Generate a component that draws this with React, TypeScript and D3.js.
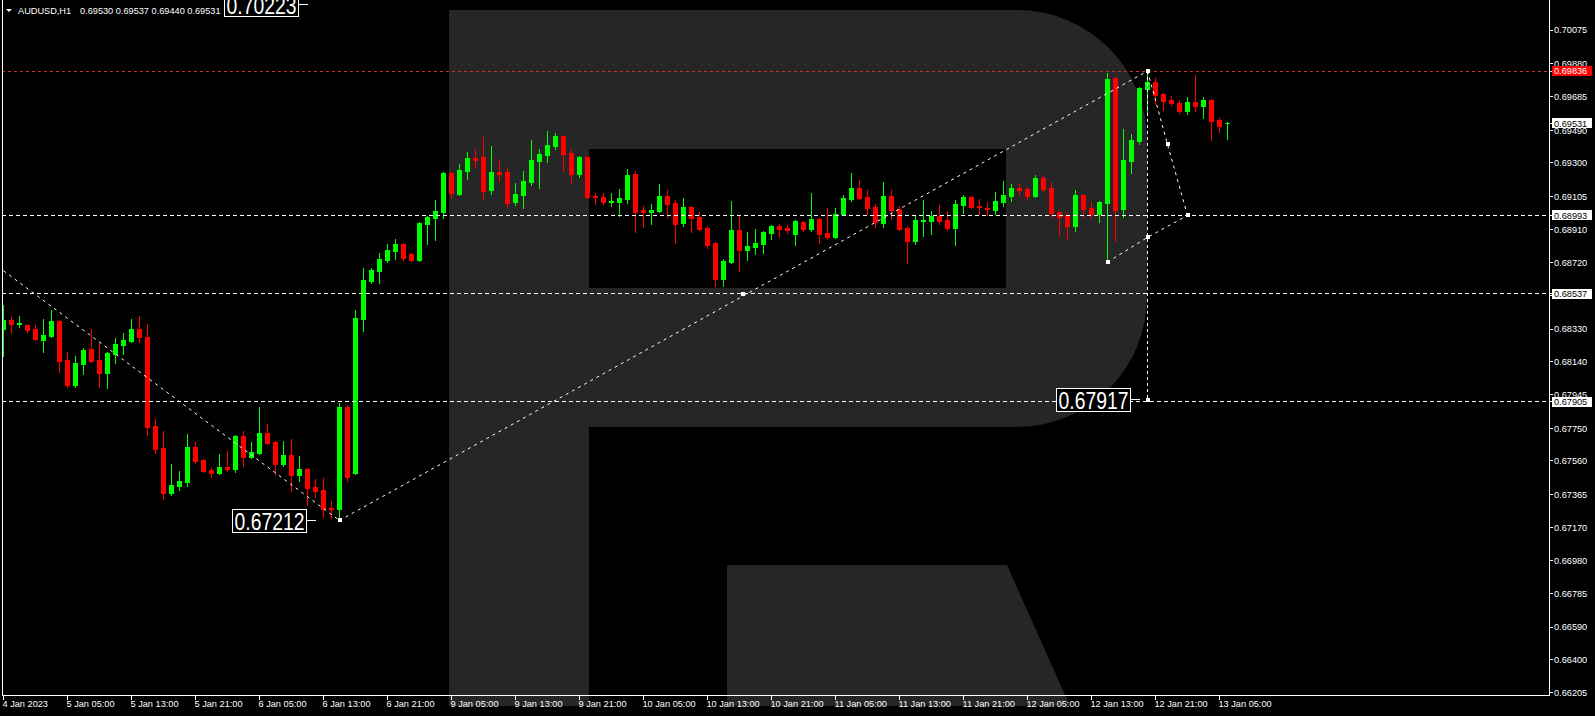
import React from 'react';
import * as d3 from 'd3';

// ---------------- data ----------------
const symbolTitle = 'AUDUSD,H1';
const headerValues = ['0.69530', '0.69537', '0.69440', '0.69531'];

const open = [
  0.68329, 0.68382, 0.68359, 0.68353, 0.68329, 0.68265, 0.68289, 0.68376, 0.68149, 0.68003,
  0.68126, 0.68212, 0.68149, 0.68072, 0.68184, 0.68236, 0.68259, 0.68329, 0.68283, 0.67763,
  0.67634, 0.67371, 0.67413, 0.67436, 0.67640, 0.67565, 0.67506, 0.67488, 0.67524, 0.67512,
  0.67705, 0.67582, 0.67605, 0.67722, 0.67669, 0.67542, 0.67594, 0.67477, 0.67512, 0.67407,
  0.67389, 0.67284, 0.67278, 0.67874, 0.67488, 0.68388, 0.68610, 0.68668, 0.68733, 0.68785,
  0.68826, 0.68768, 0.68733, 0.68943, 0.68978, 0.69013, 0.69240, 0.69118, 0.69252, 0.69328,
  0.69334, 0.69141, 0.69246, 0.69246, 0.69071, 0.69112, 0.69188, 0.69311, 0.69346, 0.69398,
  0.69457, 0.69358, 0.69235, 0.69334, 0.69106, 0.69100, 0.69071, 0.69071, 0.69089, 0.69235,
  0.69025, 0.69013, 0.69019, 0.69106, 0.69065, 0.68948, 0.69042, 0.68984, 0.68919, 0.68832,
  0.68622, 0.68721, 0.68908, 0.68791, 0.68809, 0.68826, 0.68890, 0.68931, 0.68919, 0.68884,
  0.68954, 0.68914, 0.68972, 0.68890, 0.68867, 0.69001, 0.69089, 0.69153, 0.69100, 0.69042,
  0.68948, 0.69106, 0.69030, 0.68919, 0.68843, 0.68960, 0.68960, 0.68990, 0.68966, 0.68919,
  0.69054, 0.69100, 0.69048, 0.69036, 0.69025, 0.69071, 0.69106, 0.69153, 0.69147, 0.69106,
  0.69211, 0.69153, 0.69013, 0.68995, 0.68931, 0.69112, 0.69036, 0.69001, 0.69065, 0.69796,
  0.69030, 0.69311, 0.69428, 0.69731, 0.69772, 0.69702, 0.69667, 0.69649, 0.69603, 0.69655,
  0.69632, 0.69667, 0.69550, 0.69530,
];
const high = [
  0.68470, 0.68400, 0.68406, 0.68358, 0.68353, 0.68388, 0.68441, 0.68382, 0.68195, 0.68172,
  0.68218, 0.68329, 0.68247, 0.68195, 0.68277, 0.68306, 0.68388, 0.68406, 0.68359, 0.67804,
  0.67734, 0.67542, 0.67500, 0.67717, 0.67669, 0.67570, 0.67518, 0.67600, 0.67617, 0.67711,
  0.67734, 0.67669, 0.67874, 0.67775, 0.67675, 0.67675, 0.67687, 0.67588, 0.67518, 0.67454,
  0.67459, 0.67325, 0.67898, 0.67886, 0.68441, 0.68686, 0.68686, 0.68774, 0.68826, 0.68855,
  0.68832, 0.68774, 0.68954, 0.68990, 0.69083, 0.69246, 0.69246, 0.69293, 0.69363, 0.69381,
  0.69451, 0.69398, 0.69322, 0.69270, 0.69182, 0.69252, 0.69433, 0.69381, 0.69486, 0.69474,
  0.69463, 0.69381, 0.69340, 0.69340, 0.69124, 0.69124, 0.69124, 0.69147, 0.69264, 0.69252,
  0.69048, 0.69060, 0.69176, 0.69141, 0.69083, 0.69095, 0.69048, 0.69013, 0.68931, 0.68838,
  0.68739, 0.69077, 0.68995, 0.68896, 0.68914, 0.68902, 0.68937, 0.68943, 0.68937, 0.68966,
  0.68960, 0.69124, 0.68978, 0.69036, 0.69036, 0.69112, 0.69240, 0.69200, 0.69141, 0.69060,
  0.69188, 0.69141, 0.69048, 0.68931, 0.68990, 0.69083, 0.69019, 0.69054, 0.69019, 0.69083,
  0.69112, 0.69106, 0.69089, 0.69071, 0.69130, 0.69194, 0.69176, 0.69182, 0.69159, 0.69229,
  0.69229, 0.69188, 0.69019, 0.69007, 0.69141, 0.69118, 0.69071, 0.69077, 0.69825, 0.69801,
  0.69498, 0.69468, 0.69743, 0.69836, 0.69796, 0.69708, 0.69690, 0.69667, 0.69685, 0.69813,
  0.69685, 0.69673, 0.69562, 0.69537,
];
const low = [
  0.68172, 0.68306, 0.68341, 0.68312, 0.68265, 0.68195, 0.68283, 0.68078, 0.67991, 0.67991,
  0.68067, 0.68137, 0.67991, 0.67985, 0.68131, 0.68184, 0.68253, 0.68253, 0.67711, 0.67605,
  0.67336, 0.67360, 0.67389, 0.67413, 0.67547, 0.67494, 0.67465, 0.67483, 0.67500, 0.67494,
  0.67530, 0.67576, 0.67599, 0.67657, 0.67477, 0.67530, 0.67383, 0.67442, 0.67302, 0.67348,
  0.67232, 0.67226, 0.67212, 0.67442, 0.67482, 0.68318, 0.68598, 0.68598, 0.68721, 0.68739,
  0.68733, 0.68727, 0.68727, 0.68826, 0.68849, 0.68978, 0.69095, 0.69112, 0.69206, 0.69276,
  0.69089, 0.69118, 0.69194, 0.69036, 0.69054, 0.69036, 0.69171, 0.69153, 0.69305, 0.69381,
  0.69252, 0.69176, 0.69217, 0.69095, 0.69060, 0.69060, 0.69048, 0.68990, 0.69065, 0.68896,
  0.68925, 0.68943, 0.69013, 0.68984, 0.68832, 0.68931, 0.68896, 0.68908, 0.68803, 0.68581,
  0.68581, 0.68715, 0.68668, 0.68733, 0.68768, 0.68774, 0.68855, 0.68867, 0.68890, 0.68820,
  0.68902, 0.68902, 0.68832, 0.68855, 0.68861, 0.68995, 0.69077, 0.69089, 0.69001, 0.68925,
  0.68925, 0.68972, 0.68908, 0.68715, 0.68826, 0.68873, 0.68884, 0.68943, 0.68908, 0.68820,
  0.69007, 0.69036, 0.69001, 0.68995, 0.69001, 0.69048, 0.69077, 0.69112, 0.69083, 0.69100,
  0.69136, 0.68984, 0.68879, 0.68855, 0.68902, 0.68984, 0.68978, 0.68954, 0.68721, 0.68843,
  0.68984, 0.69240, 0.69410, 0.69591, 0.69644, 0.69609, 0.69638, 0.69591, 0.69585, 0.69603,
  0.69562, 0.69433, 0.69480, 0.69440,
];
const close = [
  0.68382, 0.68359, 0.68364, 0.68324, 0.68271, 0.68295, 0.68376, 0.68143, 0.68003, 0.68131,
  0.68207, 0.68143, 0.68072, 0.68189, 0.68242, 0.68265, 0.68329, 0.68283, 0.67757, 0.67628,
  0.67371, 0.67419, 0.67442, 0.67640, 0.67559, 0.67500, 0.67488, 0.67524, 0.67512, 0.67705,
  0.67582, 0.67611, 0.67722, 0.67663, 0.67542, 0.67594, 0.67477, 0.67512, 0.67401, 0.67383,
  0.67278, 0.67278, 0.67874, 0.67465, 0.68394, 0.68616, 0.68674, 0.68739, 0.68791, 0.68826,
  0.68745, 0.68733, 0.68948, 0.68984, 0.69019, 0.69240, 0.69124, 0.69258, 0.69328, 0.69317,
  0.69136, 0.69246, 0.69235, 0.69065, 0.69118, 0.69194, 0.69317, 0.69352, 0.69404, 0.69457,
  0.69352, 0.69235, 0.69334, 0.69100, 0.69100, 0.69071, 0.69077, 0.69095, 0.69229, 0.69013,
  0.69013, 0.69025, 0.69106, 0.69060, 0.68943, 0.69042, 0.68978, 0.68914, 0.68820, 0.68622,
  0.68727, 0.68908, 0.68791, 0.68814, 0.68832, 0.68896, 0.68931, 0.68914, 0.68908, 0.68960,
  0.68914, 0.68972, 0.68884, 0.68867, 0.69001, 0.69095, 0.69153, 0.69095, 0.69036, 0.68954,
  0.69106, 0.69025, 0.68914, 0.68843, 0.68966, 0.68966, 0.68990, 0.68960, 0.68919, 0.69060,
  0.69100, 0.69042, 0.69042, 0.69030, 0.69077, 0.69112, 0.69153, 0.69141, 0.69106, 0.69211,
  0.69147, 0.69007, 0.68984, 0.68931, 0.69112, 0.69030, 0.69001, 0.69071, 0.69790, 0.69025,
  0.69317, 0.69433, 0.69737, 0.69772, 0.69696, 0.69661, 0.69649, 0.69603, 0.69655, 0.69632,
  0.69667, 0.69544, 0.69515, 0.69531,
];

const timeTickBars = [0, 8, 16, 24, 32, 40, 48, 56, 64, 72, 80, 88, 96, 104, 112, 120, 128, 136, 144, 152];
const timeTickLabels = [
  '4 Jan 2023', '5 Jan 05:00', '5 Jan 13:00', '5 Jan 21:00', '6 Jan 05:00', '6 Jan 13:00',
  '6 Jan 21:00', '9 Jan 05:00', '9 Jan 13:00', '9 Jan 21:00', '10 Jan 05:00', '10 Jan 13:00',
  '10 Jan 21:00', '11 Jan 05:00', '11 Jan 13:00', '11 Jan 21:00', '12 Jan 05:00', '12 Jan 13:00',
  '12 Jan 21:00', '13 Jan 05:00',
];
const priceTicks = [
  0.70075, 0.6988, 0.69685, 0.6949, 0.693, 0.69105, 0.6891, 0.6872, 0.68525, 0.6833, 0.6814,
  0.67945, 0.6775, 0.6756, 0.67365, 0.6717, 0.6698, 0.66785, 0.6659, 0.664, 0.66205,
];

const highLevel = 0.69836;
const lastPrice = 0.69531;
const levelPrices = [0.68993, 0.68537, 0.67905];

// wave annotations: [bar index, price]
const trendLines: [number, number][][] = [
  [[0, 0.6867], [42, 0.67212]],
  [[42, 0.67212], [143, 0.69836]],
  [[143, 0.69836], [145.5, 0.69408], [148, 0.68993]],
  [[138, 0.68721], [143, 0.68865], [148, 0.68993]],
];
const verticalLine: [number, number][] = [[143, 0.69836], [143, 0.67917]];
const markers: [number, number][] = [
  [42, 0.67212], [92.4, 0.68537], [143, 0.69836], [145.5, 0.69408], [148, 0.68993],
  [143, 0.68865], [138, 0.68721], [143, 0.67917],
];
const labelTexts = ['0.70223', '0.67212', '0.67917'];
const labelPrices = [0.70223, 0.67212, 0.67917];
const labelAnchorBars = [38, 39, 142];

// ---------------- chart ----------------
export default function App() {
  const W = 1595;
  const H = 716;
  const plotL = 2;
  const plotR = 1549;
  const plotB = 695;
  const font = '"Liberation Sans", Arial, sans-serif';
  const fs = 9.2;

  const x = d3.scaleLinear().domain([0, 153]).range([3.5, 1227.5]);
  const y = d3.scaleLinear().domain([0.66193, 0.70251]).range([695, 0]);
  const line = d3
    .line<[number, number]>()
    .x((d) => x(d[0]))
    .y((d) => y(d[1]));

  const crisp = (v: number) => Math.round(v - 0.5) + 0.5;

  const watermark =
    'M449,10 H1017 A130,130 0 0 1 1147,140 V297 A130,130 0 0 1 1017,427 H589 V706 H449 Z ' +
    'M589,149 H1006 V288 H589 Z';
  const leg = 'M727,565 H1007 L1070,706 H727 Z';

  return (
    <svg
      width={W}
      height={H}
      style={{ position: 'fixed', left: 0, top: 0, background: '#000' }}
      fontFamily={font}
    >
      <rect x={0} y={0} width={W} height={H} fill="#000" />
      <defs>
        <clipPath id="plot">
          <rect x={plotL + 1} y={0} width={plotR - plotL - 1} height={plotB} />
        </clipPath>
      </defs>

      {/* watermark */}
      <path d={watermark} fill="#262626" fillRule="evenodd" />
      <path d={leg} fill="#262626" />

      {/* candles */}
      <g clipPath="url(#plot)" shapeRendering="crispEdges">
        {open.map((o, i) => {
          const c = close[i];
          const up = c > o;
          const col = up ? '#00ff00' : '#ff0000';
          const xc = crisp(x(i));
          const yH = Math.round(y(high[i]));
          const yL = Math.round(y(low[i]));
          const yT = Math.round(y(Math.max(o, c)));
          const yB = Math.round(y(Math.min(o, c)));
          return (
            <g key={i}>
              <line x1={xc} x2={xc} y1={yH} y2={yL + 1} stroke={col} strokeWidth={1} />
              <rect x={xc - 2.5} y={yT} width={5} height={Math.max(1, yB - yT + 1)} fill={col} />
            </g>
          );
        })}
      </g>

      {/* horizontal levels */}
      <g clipPath="url(#plot)" shapeRendering="crispEdges">
        <line
          x1={plotL}
          x2={plotR}
          y1={crisp(y(highLevel))}
          y2={crisp(y(highLevel))}
          stroke="#c83232"
          strokeDasharray="3,3"
        />
        {levelPrices.map((p, i) => (
          <line
            key={i}
            x1={plotL}
            x2={plotR}
            y1={crisp(y(p))}
            y2={crisp(y(p))}
            stroke="#fff"
            strokeDasharray="4,3"
          />
        ))}
      </g>

      {/* wave annotations */}
      <g clipPath="url(#plot)">
        {trendLines.map((pts, i) => (
          <path key={i} d={line(pts) || ''} fill="none" stroke="#fff" strokeWidth={1} strokeDasharray="3,4" />
        ))}
        <line
          x1={crisp(x(verticalLine[0][0]))}
          x2={crisp(x(verticalLine[1][0]))}
          y1={y(verticalLine[0][1])}
          y2={y(verticalLine[1][1])}
          stroke="#fff"
          strokeDasharray="3,3"
          shapeRendering="crispEdges"
        />
        {markers.map((m, i) => (
          <rect key={i} x={Math.round(x(m[0])) - 2} y={Math.round(y(m[1])) - 2} width={4} height={4} fill="#fff" />
        ))}
        {labelTexts.map((t, i) => {
          const ax = x(labelAnchorBars[i]);
          const cy = y(labelPrices[i]);
          const right = Math.round(ax - 10) + 0.5;
          const top = Math.round(cy - 11.5) + 0.5;
          return (
            <g key={i}>
              <line x1={right} x2={ax} y1={crisp(cy)} y2={crisp(cy)} stroke="#fff" shapeRendering="crispEdges" />
              <rect x={right - 74} y={top} width={74} height={23} fill="#000" stroke="#fff" shapeRendering="crispEdges" />
              <text
                x={right - 72}
                y={top + 20}
                fill="#fff"
                fontSize={23}
                textLength={70}
                lengthAdjust="spacingAndGlyphs"
              >
                {t}
              </text>
            </g>
          );
        })}
      </g>

      {/* frame */}
      <g stroke="#fff" shapeRendering="crispEdges">
        <line x1={plotL + 0.5} x2={plotL + 0.5} y1={0} y2={plotB + 1} />
        <line x1={plotR + 0.5} x2={plotR + 0.5} y1={0} y2={plotB + 1} />
        <line x1={plotL} x2={plotR + 1} y1={plotB + 0.5} y2={plotB + 0.5} />
      </g>

      {/* price axis */}
      <g fontSize={fs} fill="#fff">
        {priceTicks.map((v, i) => {
          const ty = y(v);
          return (
            <g key={i}>
              <line x1={plotR + 1} x2={plotR + 4} y1={crisp(ty)} y2={crisp(ty)} stroke="#fff" shapeRendering="crispEdges" />
              <text x={1554} y={ty + 3.3}>
                {v.toFixed(5)}
              </text>
            </g>
          );
        })}
      </g>
      {/* price badges */}
      {[
        { p: highLevel, bg: '#ff0000', fg: '#fff' },
        { p: lastPrice, bg: '#fff', fg: '#000' },
        ...levelPrices.map((p) => ({ p, bg: '#fff', fg: '#000' })),
      ].map((b, i) => {
        const ty = y(b.p);
        return (
          <g key={i}>
            <line x1={plotR + 1} x2={1552} y1={crisp(ty)} y2={crisp(ty)} stroke="#fff" shapeRendering="crispEdges" />
            <rect x={1552} y={Math.round(ty) - 5} width={40} height={10} fill={b.bg} shapeRendering="crispEdges" />
            <text x={1554} y={ty + 3.3} fontSize={fs} fill={b.fg}>
              {b.p.toFixed(5)}
            </text>
          </g>
        );
      })}

      {/* time axis */}
      <g fontSize={fs} fill="#fff">
        {timeTickBars.map((b, i) => {
          const tx = crisp(x(b));
          return (
            <g key={i}>
              <line x1={tx} x2={tx} y1={plotB + 1} y2={plotB + 5} stroke="#fff" shapeRendering="crispEdges" />
              <text x={tx - 1} y={706.5}>
                {timeTickLabels[i]}
              </text>
            </g>
          );
        })}
      </g>

      {/* header */}
      <polygon points="6,9 12,9 9,12" fill="#fff" />
      <text x={18} y={14} fontSize={fs} fill="#fff">
        {symbolTitle}
      </text>
      <text x={80} y={14} fontSize={fs} fill="#fff" style={{ whiteSpace: 'pre' }}>
        {headerValues.join(' ')}
      </text>
    </svg>
  );
}
